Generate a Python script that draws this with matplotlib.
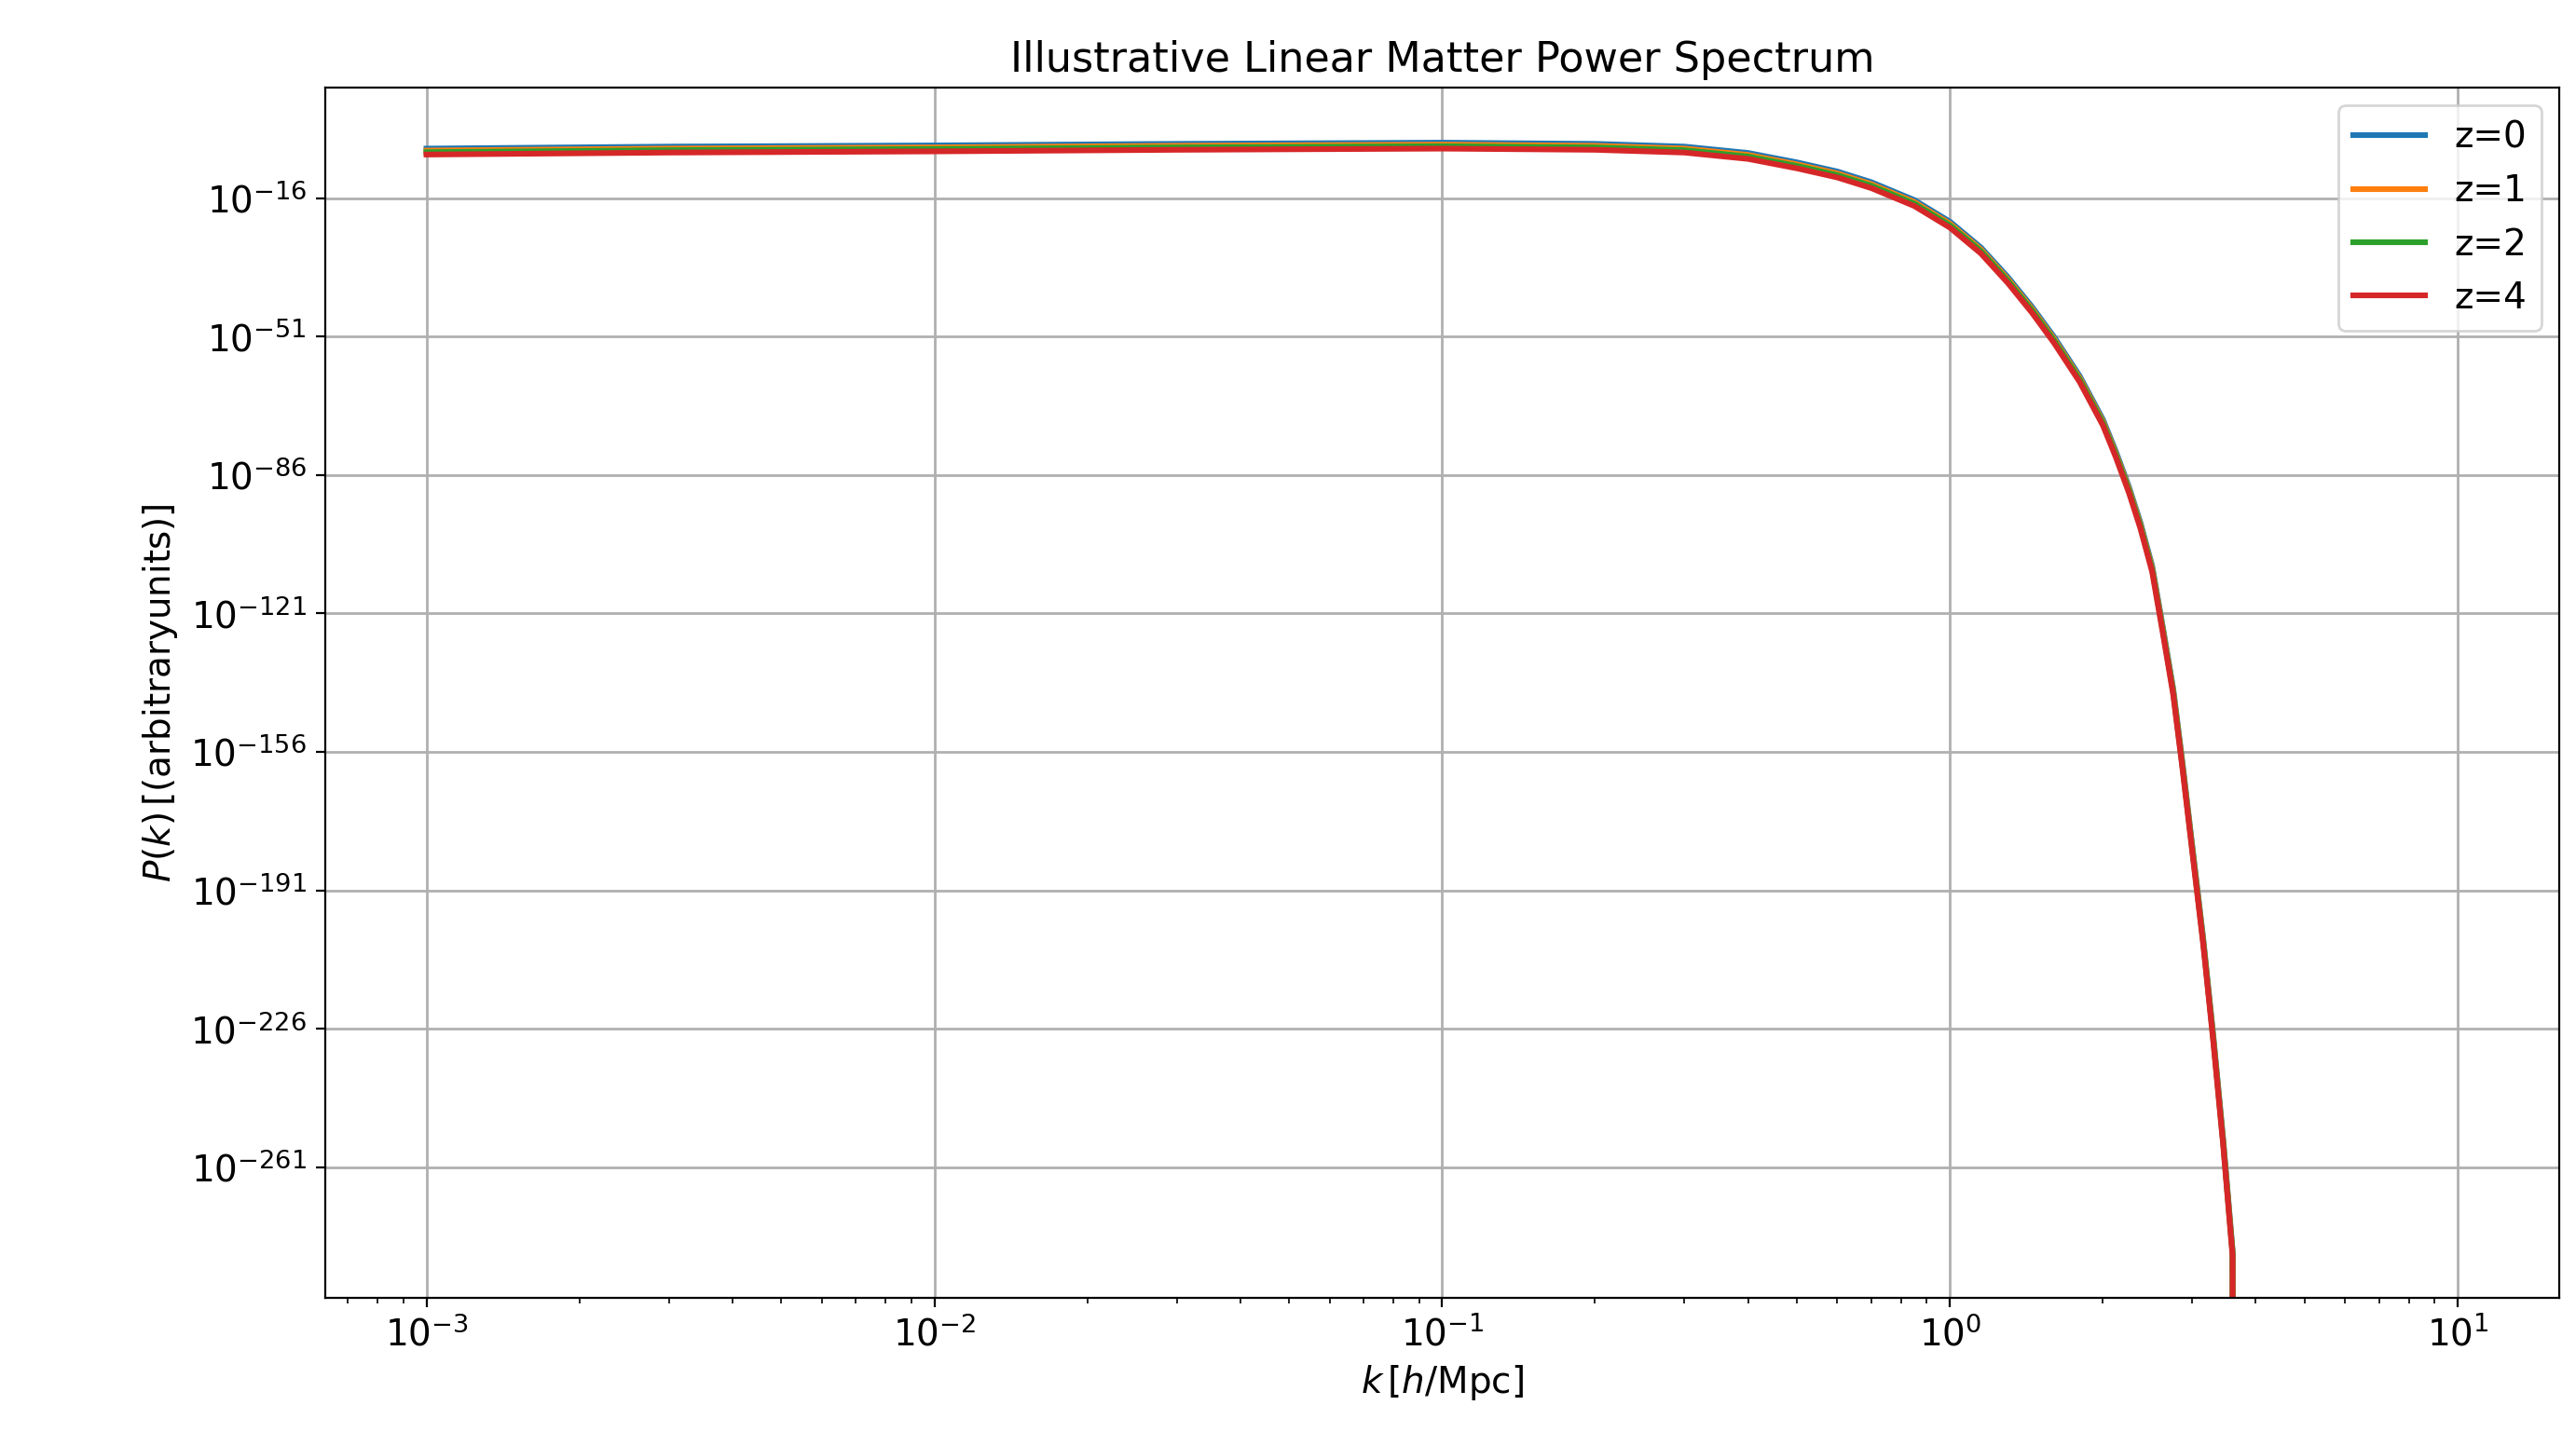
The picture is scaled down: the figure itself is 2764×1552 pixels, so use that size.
import matplotlib
matplotlib.use("Agg")
import matplotlib.pyplot as plt
from matplotlib.ticker import FixedLocator, LogFormatterSciNotation, NullLocator, LogLocator

k = [1e-3, 3e-3, 1e-2, 3e-2, 0.1, 0.2, 0.3, 0.4, 0.5, 0.6, 0.7, 0.85, 1.0, 1.15, 1.3, 1.45, 1.6, 1.8, 2.0, 2.12, 2.25, 2.37, 2.5, 2.62, 2.75, 2.87, 3.0, 3.15, 3.3, 3.45, 3.6, 3.62]
logP_z0 = [-3.5, -3.0, -2.7, -2.3, -2.0, -2.3, -3.0, -4.6, -7.0, -9.3, -12, -16.5, -22, -28.5, -36, -43.5, -51, -61, -72, -80, -89, -98, -109, -124, -140, -159, -180, -203, -228, -254, -282, -330]
offsets = {"z=0": 0.0, "z=1": -0.5, "z=2": -0.9, "z=4": -1.5}
colors = {"z=0": "#1f77b4", "z=1": "#ff7f0e", "z=2": "#2ca02c", "z=4": "#d62728"}
ytick_exps = [-16, -51, -86, -121, -156, -191, -226, -261]

fig = plt.figure(figsize=(13.82, 7.76), dpi=200)
ax = fig.add_axes([197/1562, 1-788/878, (1552-197)/1562, (788-53)/878])
for name, off in offsets.items():
    ax.plot(k, [10.0**(v + off) for v in logP_z0], color=colors[name], lw=2.2, label=name)
ax.set_xscale("log")
ax.set_yscale("log")
ax.set_xlim(10**-3.2, 10**1.2)
ax.set_ylim(10.0**-294, 10.0**12)
ax.yaxis.set_major_locator(FixedLocator([10.0**e for e in ytick_exps]))
ax.yaxis.set_major_formatter(LogFormatterSciNotation())
ax.yaxis.set_minor_locator(NullLocator())
ax.xaxis.set_major_locator(LogLocator(base=10, numticks=20))
ax.grid(True, color="#b0b0b0", lw=1.0)
ax.tick_params(labelsize=14)
ax.set_title("Illustrative Linear Matter Power Spectrum", fontsize=16)
ax.set_xlabel(r"$k\,[h/\mathrm{Mpc}]$", fontsize=14)
ax.set_ylabel(r"$P(k)\,[(\mathrm{arbitrary units})]$", fontsize=14)
ax.legend(loc="upper right", fontsize=14)
fig.savefig("out.png", dpi=200)
